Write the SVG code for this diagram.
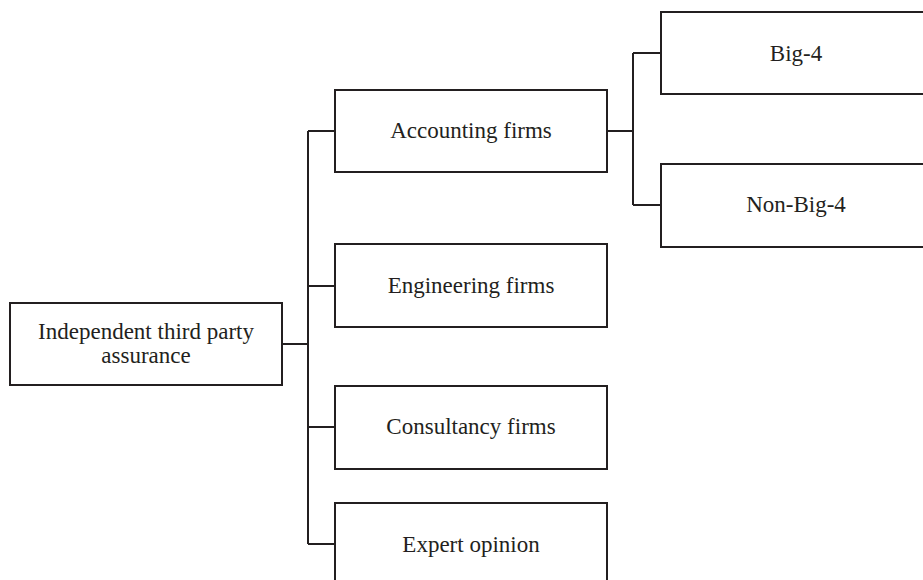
<svg xmlns="http://www.w3.org/2000/svg" width="923" height="580" viewBox="0 0 923 580">
<style>
.box{fill:#fff;stroke:#231f20;stroke-width:2}
.lbl{font-family:"Liberation Serif","Times New Roman",serif;font-size:23px;fill:#231f20;text-anchor:middle}
.con{fill:none;stroke:#231f20;stroke-width:2}
</style>
<rect width="923" height="580" fill="#fff"/>
<g id="connectors">
<path class="con" d="M282 344 H308 M308 131 V544 M308 131 H335 M308 286 H335 M308 427 H335 M308 544 H335"/>
<path class="con" d="M607 131 H633 M633 53 V205 M633 53 H661 M633 205 H661"/>
</g>
<g id="root"><rect class="box" x="10" y="303" width="272" height="82"/><text class="lbl" x="146" y="339">Independent third party</text><text class="lbl" x="146" y="363">assurance</text></g>
<g id="accounting"><rect class="box" x="335" y="90" width="272" height="82"/><text class="lbl" x="471" y="138">Accounting firms</text></g>
<g id="engineering"><rect class="box" x="335" y="244" width="272" height="83"/><text class="lbl" x="471" y="293">Engineering firms</text></g>
<g id="consultancy"><rect class="box" x="335" y="386" width="272" height="83"/><text class="lbl" x="471" y="434">Consultancy firms</text></g>
<g id="expert"><rect class="box" x="335" y="503" width="272" height="83"/><text class="lbl" x="471" y="552">Expert opinion</text></g>
<g id="big4"><rect class="box" x="661" y="12" width="272" height="82"/><text class="lbl" x="796" y="61">Big-4</text></g>
<g id="nonbig4"><rect class="box" x="661" y="164" width="272" height="83"/><text class="lbl" x="796" y="212">Non-Big-4</text></g>
</svg>
